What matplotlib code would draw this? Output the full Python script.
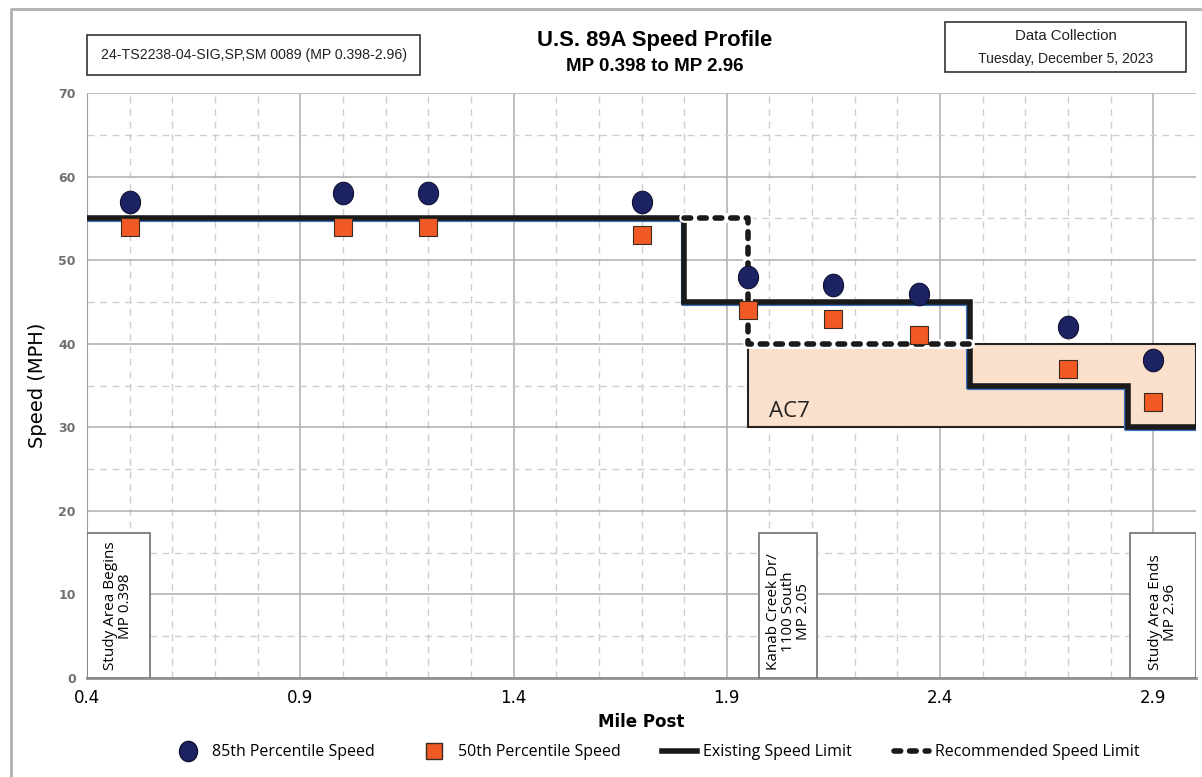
import numpy as np
import matplotlib
matplotlib.use("Agg")
import matplotlib.pyplot as plt
import matplotlib.transforms as mtransforms
from matplotlib.patches import Rectangle
from matplotlib.lines import Line2D
from matplotlib.markers import MarkerStyle

# data
mile_post = [0.5, 1.0, 1.2, 1.7, 1.95, 2.15, 2.35, 2.7, 2.9]
speed_85 = [57, 58, 58, 57, 48, 47, 46, 42, 38]
speed_50 = [54, 54, 54, 53, 44, 43, 41, 37, 33]

exist_mp = [0.4, 1.8, 1.8, 2.47, 2.47, 2.84, 2.84, 3.0]
exist_sl = [55, 55, 45, 45, 35, 35, 30, 30]

rec_mp = [1.8, 1.95, 1.95, 2.47]
rec_sl = [55, 55, 40, 40]

ac7_mp = [1.95, 3.0]
ac7_sl = [30, 40]

landmarks = [
    (0.4, 0.547, "Study Area Begins\nMP 0.398"),
    (1.976, 2.112, "Kanab Creek Dr/\n1100 South\nMP 2.05"),
    (2.845, 3.0, "Study Area Ends\nMP 2.96"),
]

fig = plt.figure(figsize=(12.02, 7.77), dpi=100)
ax = fig.add_axes([0.0724, 0.1274, 0.9226, 0.7529])

ax.set_xlim(0.4, 3.0)
ax.set_ylim(0, 70)
ax.set_xticks(np.arange(0.4, 3.0, 0.5))
ax.set_xticks(np.arange(0.4, 3.0, 0.1), minor=True)
ax.set_yticks(np.arange(0, 71, 10))
ax.set_yticks(np.arange(5, 70, 10), minor=True)
ax.set_xticklabels(["0.4", "0.9", "1.4", "1.9", "2.4", "2.9"])
ax.grid(which="major", color="#b4b4b4", lw=1.2, ls="-")
ax.grid(which="minor", color="#cfcfcf", lw=1.0, ls=(0, (5, 4)))
ax.set_axisbelow(True)
ax.tick_params(which="both", length=0)
ax.tick_params(axis="x", labelsize=12, pad=8)
ax.tick_params(axis="y", labelsize=9, labelcolor="#707070", pad=8)
for t in ax.get_yticklabels():
    t.set_fontweight("bold")
for s in ["top", "right"]:
    ax.spines[s].set_visible(False)
ax.spines["left"].set_color("#a0a0a0")
ax.spines["bottom"].set_color("#909090")
ax.spines["bottom"].set_linewidth(2)

ax.set_xlabel("Mile Post", fontsize=12, fontweight="bold", labelpad=4)
ax.set_ylabel("Speed (MPH)", fontsize=14, labelpad=8)

# AC7 zone
ax.add_patch(Rectangle((ac7_mp[0], ac7_sl[0]), ac7_mp[1] - ac7_mp[0], ac7_sl[1] - ac7_sl[0],
                       facecolor="#fbe1cc", edgecolor="#222222", lw=1.5, zorder=2))
ax.text(2.0, 31.9, "AC7", fontsize=16, color="#222222", family="Open Sans",
        va="center", zorder=3)

# landmark boxes
for x0, x1, label in landmarks:
    ax.add_patch(Rectangle((x0, 0), x1 - x0, 17.3, facecolor="white",
                           edgecolor="#707070", lw=1.2, zorder=3))
    ax.text((x0 + x1) / 2, 0.9, label, rotation=90, ha="center", va="bottom",
            fontsize=11, family="Open Sans", linespacing=1.0, zorder=4)

# existing speed limit with a thin blue shadow
shadow = mtransforms.offset_copy(ax.transData, fig=fig, x=-1.5, y=-2.0, units="dots")
ax.plot(exist_mp, exist_sl, color="#3a6fc4", lw=3, transform=shadow, zorder=4)
ax.plot(exist_mp, exist_sl, color="#1a1a1a", lw=4, zorder=5, solid_joinstyle="miter")

# recommended speed limit
ax.plot(rec_mp, rec_sl, color="white", lw=7, zorder=6, solid_capstyle="round")
ax.plot(rec_mp, rec_sl, color="#1a1a1a", lw=4, ls=(0, (1.2, 1.6)),
        dash_capstyle="round", zorder=7)

oval = MarkerStyle("o", transform=mtransforms.Affine2D().scale(1.0, 1.12))
ax.plot(mile_post, speed_85, ls="none", marker=oval, ms=14.5, color="#1c2363",
        mec="#111133", mew=0.8, zorder=8)
ax.plot(mile_post, speed_50, "s", ms=13, color="#f15a24", mec="#3a2a20", mew=0.8, zorder=8)

# title and boxes
fig.text(0.545, 0.948, "U.S. 89A Speed Profile", ha="center", va="center",
         fontsize=15.8, fontweight="bold", family="Liberation Sans")
fig.text(0.545, 0.914, "MP 0.398 to MP 2.96", ha="center", va="center",
         fontsize=13.5, fontweight="bold", family="Liberation Sans")
fig.patches.append(Rectangle((0.0724, 0.903), 0.277, 0.052, transform=fig.transFigure,
                             facecolor="white", edgecolor="#333333", lw=1.2))
fig.text(0.0724 + 0.1385, 0.929, "24-TS2238-04-SIG,SP,SM 0089 (MP 0.398-2.96)", ha="center",
         va="center", fontsize=10.2, family="Liberation Sans", color="#222222")
fig.patches.append(Rectangle((0.786, 0.907), 0.201, 0.065, transform=fig.transFigure,
                             facecolor="white", edgecolor="#333333", lw=1.2))
fig.text(0.8865, 0.954, "Data Collection", ha="center", va="center",
         fontsize=10.8, family="Liberation Sans", color="#222222")
fig.text(0.8865, 0.924, "Tuesday, December 5, 2023", ha="center", va="center",
         fontsize=10.1, family="Liberation Sans", color="#222222")

# outer frame
fig.lines.append(Line2D([0.009, 0.009, 0.998], [0.0, 0.988, 0.988], transform=fig.transFigure,
                        color="#b0b0b0", lw=2))

handles = [
    Line2D([], [], ls="none", marker=oval, ms=13, color="#1c2363", mec="#111133"),
    Line2D([], [], ls="none", marker="s", ms=12, color="#f15a24", mec="#3a2a20"),
    Line2D([], [], color="#1a1a1a", lw=4),
    Line2D([], [], color="#1a1a1a", lw=4, ls=(0, (1.2, 1.6)), dash_capstyle="round"),
]
labels = ["85th Percentile Speed", "50th Percentile Speed", "Existing Speed Limit",
          "Recommended Speed Limit"]
fig.legend(handles, labels, loc="center", bbox_to_anchor=(0.545, 0.032), ncol=4,
           frameon=False, prop={"family": "Open Sans", "size": 11.5}, columnspacing=2.6,
           handlelength=2.2, handletextpad=0.4)

fig.savefig("out.png", dpi=100)
